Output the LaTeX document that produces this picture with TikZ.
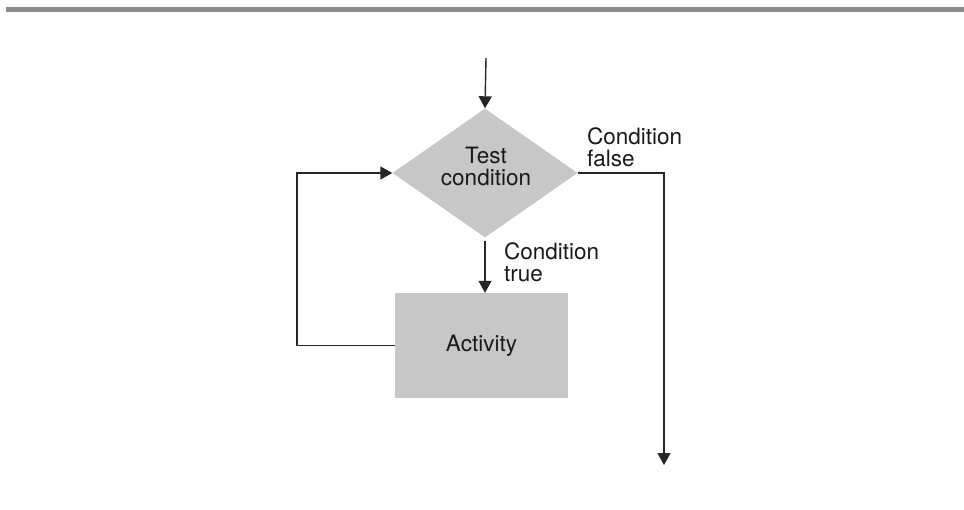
\documentclass[tikz,border=0pt]{standalone}
\usepackage{fontspec}
\setmainfont{TeX Gyre Heros}
\usetikzlibrary{shapes.geometric,arrows.meta}
\begin{document}
\begin{tikzpicture}[x=1pt,y=-1pt,
  flowline/.style={line width=1.4pt, draw=black!85},
  flowarrow/.style={flowline, -{Triangle[length=12pt,width=13pt]}},
  decision/.style={diamond, fill=black!22, minimum width=185pt, minimum height=129pt, inner sep=0pt},
  process/.style={rectangle, fill=black!22, minimum width=173pt, minimum height=105pt, inner sep=0pt},
  txt/.style={font=\fontsize{22.5}{22}\selectfont, align=left, inner sep=0pt, text=black!90}]
  \useasboundingbox (0,0) rectangle (964,510);

  % rule along the top edge
  \fill[black!45] (6,7) rectangle (964,12);

  % shapes
  \node[decision] (test) at (485,173) {};
  \node[txt, align=center] (testlabel) at (486,166) {Test\\condition};
  \node[process, txt, minimum width=173pt, minimum height=105pt] (activity) at (481.5,345.5) {Activity};

  % labels
  \node[txt, anchor=north west] (falselabel) at (587,127) {Condition\\false};
  \node[txt, anchor=north west] (truelabel) at (504,242) {Condition\\true};

  % free ends
  \coordinate (entry) at (486,58);
  \coordinate (exit) at (664,465);

  % connectors
  \draw[flowarrow] (entry) -- (test.north);
  \draw[flowarrow] ([yshift=-3pt]test.south) -- (test.south |- activity.north);
  \draw[flowarrow] (activity.west) -- ++(-98,0) |- (test.west);
  \draw[flowarrow] (test.east) -| (exit);
\end{tikzpicture}
\end{document}
